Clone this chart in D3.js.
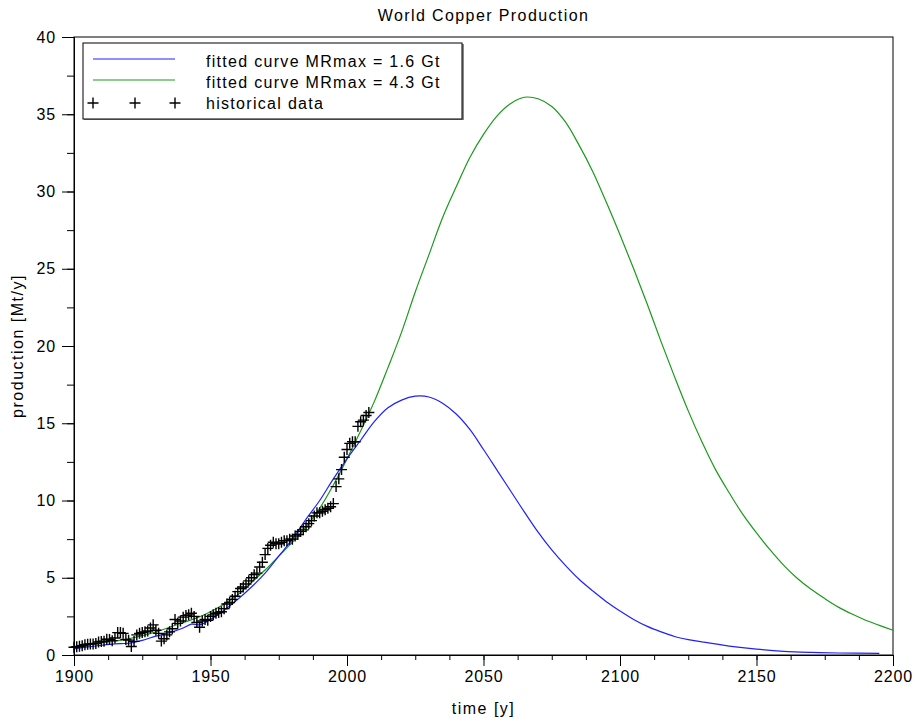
<!DOCTYPE html>
<html>
<head>
<meta charset="utf-8">
<script src="https://cdn.jsdelivr.net/npm/d3@7"></script>
<style>
  body { margin: 0; background: #fff; }
  svg { display: block; font-family: "Liberation Sans", Arial, sans-serif; }
</style>
</head>
<body>
<svg></svg>
<script>
// Historical data, one point per year 1900..2008 (Mt/y)
const histYears = d3.range(1900, 2009);
const histValues = [
  0.50, 0.53, 0.56, 0.60, 0.66, 0.70, 0.72, 0.72, 0.75, 0.84,
  0.87, 0.89, 1.02, 1.00, 0.93, 1.10, 1.45, 1.45, 1.40, 1.00,
  0.96, 0.55, 0.88, 1.30, 1.40, 1.45, 1.50, 1.55, 1.75, 1.95,
  1.60, 1.40, 0.90, 1.05, 1.30, 1.50, 1.70, 2.30, 2.05, 2.20,
  2.45, 2.55, 2.60, 2.70, 2.50, 2.10, 1.80, 2.20, 2.30, 2.25,
  2.50, 2.60, 2.70, 2.75, 2.80, 3.00, 3.30, 3.40, 3.60, 3.80,
  4.10, 4.30, 4.40, 4.60, 4.80, 5.00, 5.20, 5.30, 5.70, 6.00,
  6.50, 6.90, 7.10, 7.30, 7.20, 7.20, 7.30, 7.40, 7.40, 7.50,
  7.50, 7.70, 7.80, 8.00, 8.10, 8.30, 8.50, 8.70, 9.00, 9.20,
  9.20, 9.30, 9.40, 9.50, 9.60, 9.80, 10.9, 11.4, 12.0, 12.8,
  13.3, 13.7, 13.8, 13.8, 14.8, 15.1, 15.2, 15.5, 15.7
];

// fitted curve MRmax = 1.6 Gt
const blueYears = [1900, 1905, 1910, 1915, 1920, 1925, 1930, 1935, 1940, 1943, 1946, 1950,
  1955, 1960, 1965, 1970, 1975, 1980, 1985, 1990, 1995, 2000, 2005, 2010, 2015, 2020,
  2025, 2030, 2035, 2040, 2045, 2050, 2055, 2060, 2065, 2070, 2075, 2080, 2085, 2090,
  2095, 2100, 2105, 2110, 2115, 2120, 2125, 2130, 2140, 2150, 2160, 2170, 2180, 2195];
const blueValues = [0.40, 0.52, 0.63, 0.72, 0.76, 0.95, 1.22, 1.45, 1.75, 2.0, 1.95, 2.3,
  2.9, 3.6, 4.4, 5.3, 6.4, 7.5, 8.8, 10.0, 11.4, 12.7, 13.9, 15.1, 16.0, 16.5,
  16.75, 16.7, 16.3, 15.6, 14.6, 13.3, 11.95, 10.6, 9.25, 7.95, 6.8, 5.8, 4.9, 4.15,
  3.45, 2.85, 2.3, 1.85, 1.5, 1.2, 1.0, 0.85, 0.58, 0.38, 0.24, 0.17, 0.13, 0.10];

// fitted curve MRmax = 4.3 Gt
const greenYears = [1900, 1910, 1920, 1930, 1940, 1945, 1950, 1955, 1960, 1965, 1970,
  1975, 1980, 1985, 1990, 1995, 2000, 2005, 2010, 2015, 2020, 2025, 2030, 2035, 2040,
  2045, 2050, 2055, 2060, 2065, 2070, 2075, 2080, 2085, 2090, 2095, 2100, 2105, 2110,
  2115, 2120, 2125, 2130, 2135, 2140, 2145, 2150, 2155, 2160, 2165, 2170, 2175, 2180,
  2185, 2190, 2195, 2200];
const greenValues = [0.52, 0.78, 1.05, 1.5, 2.1, 2.4, 2.8, 3.3, 3.9, 4.7, 5.5,
  6.4, 7.3, 8.3, 9.5, 11.0, 12.7, 14.5, 16.4, 18.6, 20.9, 23.5, 25.9, 28.3, 30.3,
  32.2, 33.7, 34.9, 35.7, 36.1, 36.0, 35.5, 34.5, 33.0, 31.3, 29.3, 27.2, 25.0, 22.7,
  20.3, 18.0, 15.8, 13.8, 12.0, 10.5, 9.1, 7.9, 6.8, 5.8, 4.95, 4.25, 3.65, 3.1,
  2.65, 2.25, 1.92, 1.6];

const xTicks = [1900, 1950, 2000, 2050, 2100, 2150, 2200];
const yTicks = [0, 5, 10, 15, 20, 25, 30, 35, 40];

const legendLabels = ["fitted curve MRmax = 1.6 Gt", "fitted curve MRmax = 4.3 Gt", "historical data"];

const W = 915, H = 722;
const margin = {top: 37, right: 22, bottom: 67, left: 74};
const width = W - margin.left - margin.right,
      height = H - margin.top - margin.bottom;

const svg = d3.select("svg")
    .attr("width", W)
    .attr("height", H);

const g = svg.append("g")
    .attr("transform", `translate(${margin.left},${margin.top})`);

const x = d3.scaleLinear().domain([1900, 2200]).range([0, width]);
const y = d3.scaleLinear().domain([0, 40]).range([height, 0]);

// minor ticks
g.append("g")
    .attr("transform", `translate(0,${height})`)
    .call(d3.axisBottom(x).tickValues(d3.range(1900, 2201, 12.5)).tickSize(5).tickFormat(""))
    .call(a => a.select(".domain").remove());
g.append("g")
    .call(d3.axisLeft(y).tickValues(d3.range(0, 40.1, 2.5)).tickSize(7).tickFormat(""))
    .call(a => a.select(".domain").remove());

// major ticks + labels
g.append("g")
    .attr("class", "axis")
    .attr("transform", `translate(0,${height})`)
    .call(d3.axisBottom(x).tickValues(xTicks).tickSize(11).tickPadding(5).tickFormat(d3.format("d")));
g.append("g")
    .attr("class", "axis")
    .call(d3.axisLeft(y).tickValues(yTicks).tickSize(12).tickPadding(6));

g.selectAll(".axis text")
    .attr("font-size", 16)
    .attr("letter-spacing", 0.8)
    .attr("font-family", "Liberation Sans, Arial, sans-serif")
    .attr("fill", "#000");
g.selectAll(".tick line").attr("stroke", "#000");

// frame
g.append("rect")
    .attr("width", width)
    .attr("height", height)
    .attr("fill", "none")
    .attr("stroke", "#000");

// fitted curves
const line = d3.line()
    .x(d => x(d[0]))
    .y(d => y(d[1]))
    .curve(d3.curveCatmullRom.alpha(0.5));

g.append("path")
    .datum(greenYears.map((t, i) => [t, greenValues[i]]))
    .attr("d", line)
    .attr("fill", "none")
    .attr("stroke", "#1a9a1a")
    .attr("stroke-width", 1.2);

g.append("path")
    .datum(blueYears.map((t, i) => [t, blueValues[i]]))
    .attr("d", line)
    .attr("fill", "none")
    .attr("stroke", "#2020ff")
    .attr("stroke-width", 1.2);

// historical data crosses
const cs = 5.5;
const cross = `M${-cs},0H${cs}M0,${-cs}V${cs}`;
g.selectAll(".hist")
    .data(histYears.map((t, i) => [t, histValues[i]]))
    .join("path")
    .attr("class", "hist")
    .attr("transform", d => `translate(${x(d[0])},${y(d[1])})`)
    .attr("d", cross)
    .attr("fill", "none")
    .attr("stroke", "#000")
    .attr("stroke-width", 1.4);

// legend
const lg = svg.append("g").attr("transform", "translate(83,43)");
lg.append("rect")
    .attr("x", 1).attr("y", 1)
    .attr("width", 380).attr("height", 76)
    .attr("fill", "#888");
lg.append("rect")
    .attr("width", 379).attr("height", 76)
    .attr("fill", "#fff")
    .attr("stroke", "#000");
lg.append("line").attr("x1", 10).attr("x2", 92).attr("y1", 16).attr("y2", 16)
    .attr("stroke", "#2020ff").attr("stroke-width", 1.2);
lg.append("line").attr("x1", 10).attr("x2", 92).attr("y1", 37).attr("y2", 37)
    .attr("stroke", "#1a9a1a").attr("stroke-width", 1.2);
lg.selectAll(".lc")
    .data([10, 52, 92])
    .join("path")
    .attr("class", "lc")
    .attr("transform", d => `translate(${d},60)`)
    .attr("d", cross)
    .attr("stroke", "#000")
    .attr("stroke-width", 1.4);
lg.selectAll(".lt")
    .data(legendLabels)
    .join("text")
    .attr("class", "lt")
    .attr("x", 123)
    .attr("y", (d, i) => 24 + i * 21)
    .attr("font-size", 16)
    .attr("letter-spacing", 1.3)
    .text(d => d);

// title and axis labels
svg.append("text")
    .attr("x", margin.left + width / 2)
    .attr("y", 21)
    .attr("text-anchor", "middle")
    .attr("font-size", 16)
    .attr("letter-spacing", 1.4)
    .text("World Copper Production");

svg.append("text")
    .attr("x", margin.left + width / 2)
    .attr("y", 714)
    .attr("text-anchor", "middle")
    .attr("font-size", 16)
    .attr("letter-spacing", 1.5)
    .text("time [y]");

svg.append("text")
    .attr("transform", `translate(23,${margin.top + height / 2}) rotate(-90)`)
    .attr("text-anchor", "middle")
    .attr("font-size", 16)
    .attr("letter-spacing", 1.5)
    .text("production [Mt/y]");
</script>
</body>
</html>
